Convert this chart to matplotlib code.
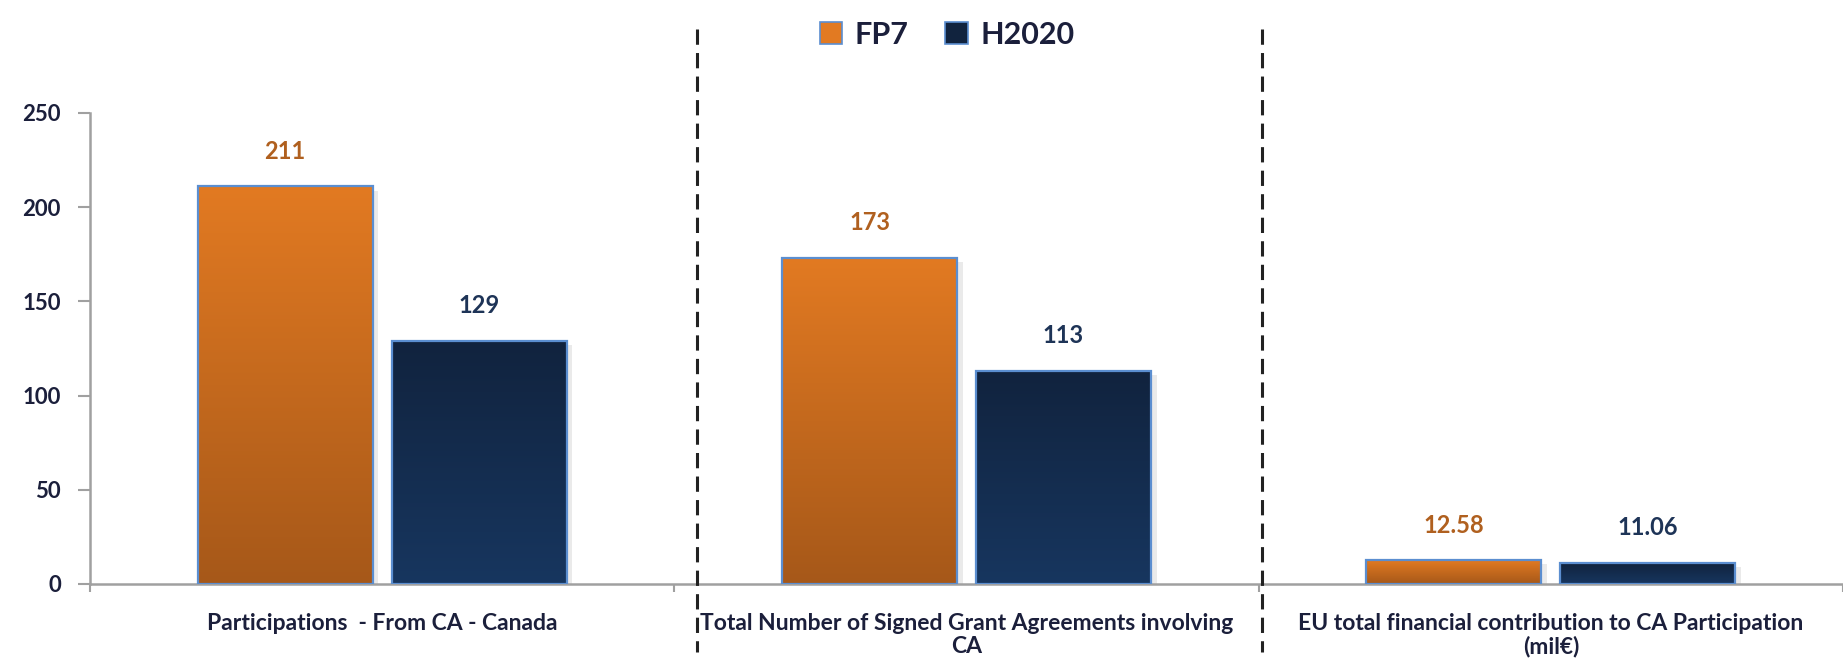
import numpy as np
import matplotlib
matplotlib.use('Agg')
import matplotlib.pyplot as plt
from matplotlib.colors import LinearSegmentedColormap
from matplotlib.patches import Patch
import matplotlib.patheffects as pe

# Data
categories = ['Participations  - From CA - Canada',
              'Total Number of Signed Grant Agreements involving\nCA',
              'EU total financial contribution to CA Participation\n(mil€)']
fp7 = [211, 173, 12.58]
h2020 = [129, 113, 11.06]
fp7_labels = ['211', '173', '12.58']
h2020_labels = ['129', '113', '11.06']
series = ['FP7', 'H2020']

plt.rcParams['font.family'] = ['Lato', 'DejaVu Sans']
plt.rcParams['font.weight'] = 'bold'

ORANGE = ('#E27A22', '#A65819')
NAVY = ('#11233E', '#17365F')
EDGE = '#5B8ED0'
TXT = '#1B1F3B'

fig = plt.figure(figsize=(18.43, 6.64), dpi=100)
ax = fig.add_axes([90 / 1843, 80 / 664, 1.0 - 90 / 1843, 471 / 664])

x = np.arange(len(categories)) + 0.5
w = 0.30
off = 0.166


def gradient_bars(xpos, vals, colors):
    bars = ax.bar(xpos, vals, width=w, color=colors[0], linewidth=0, zorder=2)
    cmap = LinearSegmentedColormap.from_list('g', [colors[1], colors[0]])
    grad = np.linspace(0, 1, 256).reshape(-1, 1)
    for b in bars:
        b.set_path_effects([pe.SimplePatchShadow(offset=(4, -3), shadow_rgbFace='#999999', alpha=0.2),
                            pe.Normal()])
        x0, y0 = b.get_x(), b.get_y()
        im = ax.imshow(grad, extent=[x0, x0 + b.get_width(), y0, y0 + b.get_height()],
                       origin='lower', aspect='auto', cmap=cmap, zorder=2.5)
        im.set_clip_path(b)
    ax.bar(xpos, vals, width=w, fill=False, edgecolor=EDGE, linewidth=1.6, zorder=3)
    return bars


gradient_bars(x - off, fp7, ORANGE)
gradient_bars(x + off, h2020, NAVY)

for xi, v, lab in zip(x - off, fp7, fp7_labels):
    ax.annotate(lab, (xi, v), xytext=(0, 20), textcoords='offset points',
                ha='center', va='baseline', fontsize=17, color='#B0601F', fontweight='bold')
for xi, v, lab in zip(x + off, h2020, h2020_labels):
    ax.annotate(lab, (xi, v), xytext=(0, 20), textcoords='offset points',
                ha='center', va='baseline', fontsize=17, color='#1E3457', fontweight='bold')

ax.set_xlim(0, 3)
ax.set_ylim(0, 250)
ax.set_yticks([0, 50, 100, 150, 200, 250])
ax.tick_params(axis='y', direction='out', length=9, width=1.5, color='#A0A0A0',
               labelsize=16, labelcolor=TXT, pad=12)
ax.set_xticks(x)
ax.set_xticklabels(categories, fontsize=16.5, color=TXT, fontweight='bold', linespacing=1.1)
ax.tick_params(axis='x', which='major', length=0, pad=21)
ax.set_xticks([0, 1, 2, 3], minor=True)
ax.tick_params(axis='x', which='minor', direction='out', length=6, width=1.5, color='#A0A0A0')

for s in ['top', 'right']:
    ax.spines[s].set_visible(False)
for s in ['left', 'bottom']:
    ax.spines[s].set_color('#A0A0A0')
    ax.spines[s].set_linewidth(1.8)

# dashed separators between groups
for xs in [1.038, 2.005]:
    ax.plot([xs, xs], [1.178, -0.144], transform=ax.get_xaxis_transform(), clip_on=False,
            color='#222222', linewidth=2.2, linestyle=(0, (5, 2.7)), zorder=5)

handles = [Patch(facecolor=ORANGE[0], edgecolor=EDGE, linewidth=1.2),
           Patch(facecolor=NAVY[0], edgecolor=EDGE, linewidth=1.2)]
leg = fig.legend(handles, series, loc='upper center', bbox_to_anchor=(947 / 1843, 1.01),
                 ncol=2, frameon=False, fontsize=22, handlelength=0.75, handleheight=0.75,
                 handletextpad=0.4, columnspacing=1.2)
for t in leg.get_texts():
    t.set_color(TXT)
    t.set_fontweight('bold')

fig.savefig('out.png', dpi=100)
